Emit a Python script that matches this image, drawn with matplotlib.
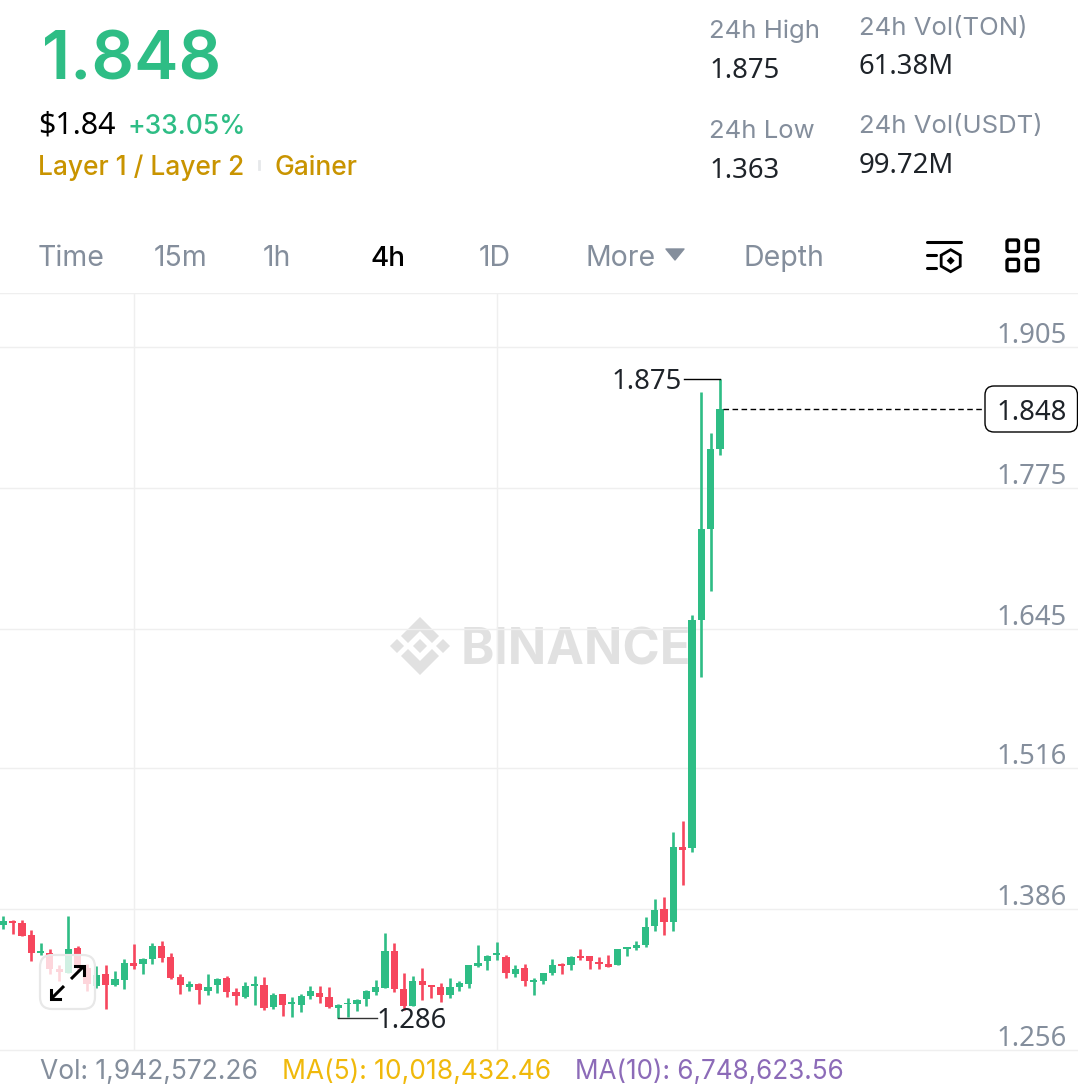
import matplotlib
matplotlib.use("Agg")
import matplotlib.pyplot as plt
import numpy as np
from matplotlib.patches import FancyBboxPatch, Polygon, RegularPolygon

plt.rcParams['font.family'] = ['Inter', 'DejaVu Sans']
NUM_FONT = ['Noto Sans', 'DejaVu Sans']

##### DATA

# 4h candles
opens = [1.3712,1.3755,1.3733,1.3622,1.3453,1.3459,1.3308,1.3268,1.3502,1.3317,
         1.3154,1.3259,1.3157,1.3210,1.3361,1.3354,1.3401,1.3524,1.3422,1.3231,
         1.3145,1.3170,1.3108,1.3160,1.3222,1.3099,1.3053,1.3151,1.3160,1.2960,
         1.3077,1.2982,1.2972,1.3059,1.3090,1.3046,1.2948,1.2982,1.2985,1.3031,
         1.3093,1.3133,1.3478,1.3126,1.2969,1.3197,1.3157,1.3139,1.3065,1.3145,
         1.3170,1.3336,1.3385,1.3434,1.3423,1.3262,1.3321,1.3192,1.3201,1.3272,
         1.3355,1.3342,1.3432,1.3429,1.3370,1.3352,1.3342,1.3496,1.3503,1.3530,
         1.3703,1.3863,1.3746,1.4430,1.4424,1.6528,1.7368,1.8111]
highs = [1.3801,1.3761,1.3761,1.3669,1.3552,1.3493,1.3348,1.3801,1.3521,1.3354,
         1.3339,1.3348,1.3293,1.3401,1.3539,1.3410,1.3552,1.3570,1.3459,1.3262,
         1.3200,1.3179,1.3262,1.3225,1.3240,1.3130,1.3188,1.3240,1.3231,1.3090,
         1.3080,1.3046,1.3077,1.3148,1.3151,1.3139,1.2985,1.3037,1.3034,1.3117,
         1.3207,1.3641,1.3548,1.3268,1.3247,1.3317,1.3157,1.3176,1.3225,1.3200,
         1.3348,1.3530,1.3438,1.3561,1.3438,1.3349,1.3352,1.3225,1.3272,1.3401,
         1.3364,1.3429,1.3490,1.3429,1.3419,1.3441,1.3490,1.3512,1.3570,1.3792,
         1.3952,1.3971,1.4571,1.4673,1.6580,1.8631,1.8252,1.8751]
lows = [1.3675,1.3632,1.3610,1.3379,1.3441,1.3262,1.3194,1.3268,1.3277,1.3102,
        1.3133,1.2939,1.3148,1.3120,1.3311,1.3262,1.3351,1.3370,1.3213,1.3080,
        1.3108,1.2988,1.3071,1.3090,1.3053,1.2979,1.3040,1.2979,1.2929,1.2939,
        1.2877,1.2868,1.2908,1.3028,1.2991,1.2948,1.2860,1.2862,1.2923,1.2969,
        1.3071,1.3133,1.3093,1.2929,1.2969,1.3022,1.3040,1.3000,1.3040,1.3108,
        1.3130,1.3330,1.3299,1.3391,1.3222,1.3232,1.3152,1.3071,1.3170,1.3250,
        1.3259,1.3299,1.3392,1.3312,1.3309,1.3330,1.3342,1.3432,1.3481,1.3509,
        1.3654,1.3623,1.3663,1.4082,1.4384,1.6004,1.6799,1.8049]
closes = [1.3749,1.3736,1.3616,1.3456,1.3475,1.3308,1.3277,1.3490,1.3324,1.3170,
          1.3256,1.3160,1.3219,1.3361,1.3333,1.3401,1.3524,1.3410,1.3225,1.3160,
          1.3173,1.3114,1.3145,1.3213,1.3099,1.3062,1.3148,1.3173,1.2948,1.3071,
          1.2979,1.3003,1.3059,1.3105,1.3053,1.2960,1.2976,1.2997,1.3019,1.3102,
          1.3139,1.3478,1.3120,1.2969,1.3197,1.3160,1.3139,1.3071,1.3145,1.3176,
          1.3348,1.3367,1.3428,1.3453,1.3272,1.3312,1.3201,1.3210,1.3269,1.3349,
          1.3336,1.3423,1.3410,1.3379,1.3352,1.3330,1.3490,1.3512,1.3527,1.3691,
          1.3851,1.3743,1.4430,1.4408,1.6528,1.7368,1.8111,1.8477]

price_ticks = [1.905, 1.775, 1.645, 1.516, 1.386, 1.256]
vgrid_candles = [14, 53]
tabs = ["Time", "15m", "1h", "4h", "1D", "More", "Depth"]
tab_x = [38, 154, 263, 370, 479, 585, 744]

last_price = 1.848
high_price = 1.875
low_price = 1.286

GREEN = '#2EBD85'
RED = '#F6465D'
GRAY = '#848E9C'
DARK = '#1E2329'
GRID = '#EFEFEF'

W, H = 1078, 1091

##### PLOTTING

fig = plt.figure(figsize=(W/100, H/100), dpi=100, facecolor='white')

def px_axes(zorder):
    a = fig.add_axes([0, 0, 1, 1], zorder=zorder)
    a.set_xlim(0, W)
    a.set_ylim(H, 0)
    a.axis('off')
    a.patch.set_visible(False)
    return a

bg = px_axes(0)

# candle axes: from y=293 to y=1050
ax = fig.add_axes([0, (H-1050)/H, 1, (1050-293)/H], zorder=1)
ax.patch.set_visible(False)
per_px = (1.905-1.256)/703.0
ax.set_ylim(1.256, 1.905+54*per_px)
ax.set_xlim(-3.33/9.307, (W-3.33)/9.307)
for s in ax.spines.values():
    s.set_visible(False)
ax.set_xticks([])
ax.set_yticks([])

for p in price_ticks:
    ax.axhline(p, color=GRID, lw=1.0, zorder=1, clip_on=False)
    ax.annotate(f"{p:.3f}", xy=(1067/W, p), xycoords=ax.get_yaxis_transform(),
                xytext=(0, 11), textcoords='offset pixels', ha='right', va='center',
                fontsize=19.8, color=GRAY, zorder=2, family=NUM_FONT)
ax.axhline(1.905+54*per_px, color=GRID, lw=1.0, zorder=1)
for c in vgrid_candles:
    ax.axvline(c, color=GRID, lw=1.0, zorder=1)

idx = np.arange(len(opens))
o, h, l, c = map(np.array, (opens, highs, lows, closes))
cols = [GREEN if b >= a else RED for a, b in zip(o, c)]
ax.vlines(idx, l, h, colors=cols, lw=1.9, zorder=3)
ax.bar(idx, np.abs(c-o), bottom=np.minimum(o, c), width=0.78, color=cols, zorder=4)

# high / low markers
ax.plot([73.1, 77], [high_price, high_price], color='black', lw=1.0, zorder=5)
ax.annotate(f"{high_price:.3f}", xy=(72.9, high_price), xytext=(0, -3), textcoords='offset pixels',
            ha='right', va='center', fontsize=19.8, color=DARK, zorder=5, family=NUM_FONT)
ax.plot([36, 40.2], [low_price, low_price], color='#333333', lw=1.0, zorder=5)
ax.annotate(f"{low_price:.3f}", xy=(40.3, low_price), xytext=(-2, -3), textcoords='offset pixels',
            ha='left', va='center', fontsize=19.8, color=DARK, zorder=5, family=NUM_FONT)

# last price
ax.plot([77.3, 105.5], [last_price, last_price], color='black', lw=1.0, ls=(0, (4, 2.5)), zorder=5)

# watermark
bg.text(461, 646, "BINANCE", fontsize=36.3, fontweight='bold', color='#E1E1E1',
        ha='left', va='center_baseline')
def diamond(cx, cy, r):
    bg.add_patch(Polygon([(cx-r, cy), (cx, cy-r), (cx+r, cy), (cx, cy+r)], fc='#E1E1E1', ec='none'))
diamond(420, 646, 7)
diamond(397, 646, 7)
diamond(443, 646, 7)
bg.add_patch(Polygon([(420, 617), (439, 636), (432, 643), (420, 631), (408, 643), (401, 636)], fc='#E1E1E1', ec='none'))
bg.add_patch(Polygon([(420, 675), (439, 656), (432, 649), (420, 661), (408, 649), (401, 656)], fc='#E1E1E1', ec='none'))

# header
def txt(x, y, s, size, color, **kw):
    return bg.text(x, y, s, fontsize=size, color=color, va='center', ha=kw.pop('ha', 'left'), **kw)

txt(42, 62, "1.848", 48, GREEN, fontweight='semibold')
txt(38, 125, "$1.84", 21.8, 'black', family=NUM_FONT, fontweight='medium')
txt(127, 127, "+33.05%", 19, GREEN, fontweight='medium')
txt(38, 168, "Layer 1 / Layer 2", 19, '#C99400', fontweight='medium')
txt(274, 168, "Gainer", 19, '#C99400', fontweight='medium')
bg.plot([259, 259], [161, 169], color='#E6E8EA', lw=2)

txt(709, 31, "24h High", 18.5, GRAY)
txt(710, 71, "1.875", 19.8, DARK, family=NUM_FONT)
txt(709, 131, "24h Low", 18.5, GRAY)
txt(710, 171, "1.363", 19.8, DARK, family=NUM_FONT)
txt(859, 28, "24h Vol(TON)", 18.5, GRAY)
txt(859, 67, "61.38M", 19.8, DARK, family=NUM_FONT)
txt(859, 126, "24h Vol(USDT)", 18.5, GRAY)
txt(859, 166, "99.72M", 19.8, DARK, family=NUM_FONT)

for name, x in zip(tabs, tab_x):
    if name == "4h":
        txt(x, 259, name, 20, 'black', fontweight='medium')
    else:
        txt(x, 259, name, 20.5, GRAY)
bg.add_patch(Polygon([(666, 249), (684, 249), (675, 260)], fc=GRAY, ec=GRAY, lw=1, joinstyle='round'))

# footer
txt(40, 1072, "Vol: 1,942,572.26", 19, GRAY)
txt(282, 1072, "MA(5): 10,018,432.46", 19, '#F0B90B')
txt(575, 1072, "MA(10): 6,748,623.56", 18.8, '#8C6BB8')

# top icons
top = px_axes(2)
for x0, x1, y in [(927, 961, 241.7), (927, 936, 255), (927, 936, 268)]:
    top.plot([x0, x1], [y, y], color='black', lw=2.2, solid_capstyle='round')
top.add_patch(RegularPolygon((950.7, 260.7), 6, radius=11, fc='white', ec='black', lw=2))
top.add_patch(Polygon([(950.7, 256.7), (954.7, 260.7), (950.7, 264.7), (946.7, 260.7)], fc='black', ec='none'))
for x in [1006, 1025.3]:
    for y in [239, 258.3]:
        top.add_patch(FancyBboxPatch((x+1, y+1), 11.5, 11.5, boxstyle="round,pad=0,rounding_size=2",
                                     fc='white', ec='black', lw=2.4))

# last price box
top.add_patch(FancyBboxPatch((985, 386), 92.5, 46, boxstyle="round,pad=0,rounding_size=9",
                             fc='white', ec='black', lw=1.0, zorder=1))
top.text(1067, 413, f"{last_price:.3f}", fontsize=19.8, color=DARK, ha='right', va='center',
         zorder=2, family=NUM_FONT)

# expand button over the candles
top.add_patch(FancyBboxPatch((40, 955), 55, 54, boxstyle="round,pad=0,rounding_size=12",
                             fc=(1, 1, 1, 0.78), ec='#E8E8E8', lw=1.6))
for pts in [[(71, 979), (84, 966)], [(64, 986), (51, 999)]]:
    top.plot(*zip(*pts), color='black', lw=2.2, solid_capstyle='butt')
top.plot([75, 84, 84], [966, 966, 975], color='black', lw=2.2, solid_joinstyle='miter')
top.plot([51, 51, 60], [990, 999, 999], color='black', lw=2.2, solid_joinstyle='miter')

fig.savefig("out.png", dpi=100)
